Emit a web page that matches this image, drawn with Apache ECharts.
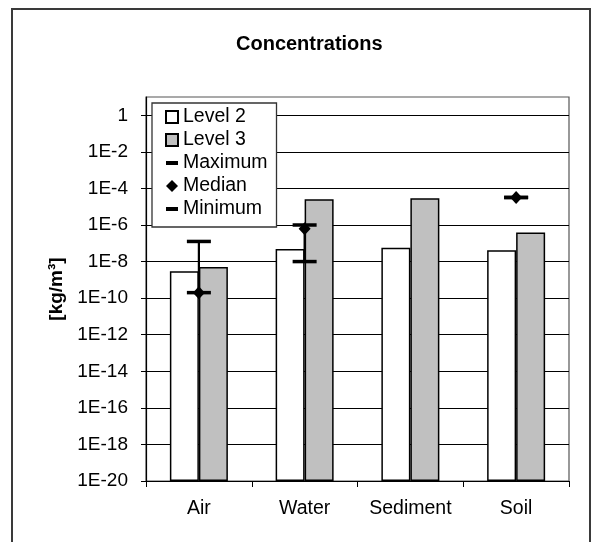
<!DOCTYPE html>
<html>
<head>
<meta charset="utf-8">
<script src="https://cdn.jsdelivr.net/npm/echarts@6/dist/echarts.min.js"></script>
<style>html,body{margin:0;padding:0;background:#fff}#c{width:594px;height:542px}</style>
</head>
<body>
<div id="c"></div>
<script>
const categories = ['Air', 'Water', 'Sediment', 'Soil'];
const level2 = [3e-9, 4.8e-8, 5.7e-8, 4.1e-8];
const level3 = [5e-9, 2.6e-5, 2.9e-5, 3.9e-7];
const maximum = [1.26e-7, 1e-6, null, 3.2e-5];
const median = [2e-10, 6.3e-7, null, 3.2e-5];
const minimum = [2e-10, 1e-8, null, 3.2e-5];
const yTicks = [1e-20, 1e-18, 1e-16, 1e-14, 1e-12, 1e-10, 1e-8, 1e-6, 1e-4, 1e-2, 1];
const yTickLabels = ['1E-20', '1E-18', '1E-16', '1E-14', '1E-12', '1E-10', '1E-8', '1E-6', '1E-4', '1E-2', '1'];

const FONT = "'Liberation Sans', Arial, sans-serif";
const chart = echarts.init(document.getElementById('c'), null, {renderer: 'canvas'});

function labelFor(v) {
  const e = Math.round(Math.log10(v));
  for (let i = 0; i < yTicks.length; i++) {
    if (Math.round(Math.log10(yTicks[i])) === e) return yTickLabels[i];
  }
  return '';
}

const errData = [];
categories.forEach((c, i) => {
  if (minimum[i] != null && maximum[i] != null) errData.push([i, minimum[i], maximum[i]]);
});

const barIcon = 'path://M0,0 L12,0 L12,4 L0,4 Z';

chart.setOption({
  animation: false,
  backgroundColor: '#fff',
  textStyle: {fontFamily: FONT},
  graphic: [{
    type: 'rect', z: 0,
    shape: {x: 12, y: 9, width: 578, height: 545},
    style: {fill: 'none', stroke: '#3a3a3a', lineWidth: 2}
  }],
  title: {
    text: 'Concentrations', left: 231, top: 29,
    textStyle: {fontFamily: FONT, fontWeight: 'bold', fontSize: 20, color: '#000'}
  },
  legend: {
    orient: 'vertical', left: 152, top: 103,
    padding: [4, 9, 8, 13],
    itemWidth: 12, itemHeight: 12, itemGap: 3,
    backgroundColor: '#fff', borderColor: '#333', borderWidth: 1.3,
    textStyle: {fontFamily: FONT, fontSize: 19.5, color: '#000', lineHeight: 20},
    data: [
      {name: 'Level 2', icon: 'rect'},
      {name: 'Level 3', icon: 'rect'},
      {name: 'Maximum', icon: barIcon},
      {name: 'Median', icon: 'diamond'},
      {name: 'Minimum', icon: barIcon}
    ],
    z: 10
  },
  grid: {
    left: 146, right: 25, top: 97, bottom: 61,
    show: true, borderColor: '#555', borderWidth: 1.2, backgroundColor: 'transparent'
  },
  xAxis: {
    type: 'category', data: categories,
    axisLine: {lineStyle: {color: '#000', width: 1.2}},
    axisTick: {show: true, length: 6, alignWithLabel: false, lineStyle: {color: '#000'}},
    axisLabel: {fontFamily: FONT, fontSize: 19.5, color: '#000', margin: 18, interval: 0}
  },
  yAxis: {
    type: 'log', logBase: 10, min: 1e-20, max: 10, startValue: 1e-20,
    interval: 2,
    name: '[kg/m³]', nameLocation: 'middle', nameGap: 78, nameRotate: 90,
    nameTextStyle: {fontFamily: FONT, fontWeight: 'bold', fontSize: 19, color: '#000'},
    axisLine: {show: true, lineStyle: {color: '#000', width: 1.2}},
    axisTick: {show: true, length: 5, lineStyle: {color: '#000'}, customValues: yTicks},
    axisLabel: {fontFamily: FONT, fontSize: 19, color: '#000', margin: 18,
      customValues: yTicks, formatter: v => labelFor(v)},
    splitLine: {show: true, lineStyle: {color: '#000', width: 1}}
  },
  series: [
    {
      name: 'Level 2', type: 'bar', data: level2, barWidth: 29, barGap: '0%',
      itemStyle: {color: '#fff', borderColor: '#000', borderWidth: 1.5}, z: 2
    },
    {
      name: 'Level 3', type: 'bar', data: level3, barWidth: 29, barGap: '0%',
      itemStyle: {color: '#c0c0c0', borderColor: '#000', borderWidth: 1.5}, z: 2
    },
    {
      name: 'errline', type: 'custom', data: errData, z: 3,
      encode: {x: 0, y: [1, 2]},
      renderItem: function (params, api) {
        const p1 = api.coord([api.value(0), api.value(1)]);
        const p2 = api.coord([api.value(0), api.value(2)]);
        return {type: 'line', shape: {x1: p1[0], y1: p1[1], x2: p2[0], y2: p2[1]},
          style: {stroke: '#000', lineWidth: 2.2}};
      }
    },
    {
      name: 'Maximum', type: 'scatter', data: maximum, symbol: 'rect', symbolSize: [24, 3.5],
      itemStyle: {color: '#000', opacity: 1}, z: 4
    },
    {
      name: 'Minimum', type: 'scatter', data: minimum, symbol: 'rect', symbolSize: [24, 3.5],
      itemStyle: {color: '#000', opacity: 1}, z: 4
    },
    {
      name: 'Median', type: 'scatter', data: median, symbol: 'diamond', symbolSize: [12, 13],
      itemStyle: {color: '#000', opacity: 1}, z: 5
    }
  ]
});
</script>
</body>
</html>
